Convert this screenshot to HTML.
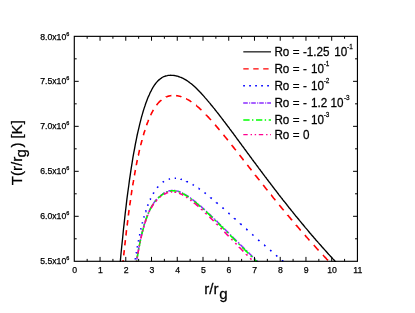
<!DOCTYPE html>
<html><head><meta charset="utf-8"><title>T(r/rg)</title>
<style>
html,body{margin:0;padding:0;background:#fff;}
body{width:415px;height:313px;overflow:hidden;}
svg{display:block;will-change:transform;}
text{font-family:"Liberation Sans",sans-serif;fill:#000;stroke:#000;stroke-width:0.25px;}
</style></head><body>
<svg width="415" height="313" viewBox="0 0 415 313">
<rect width="415" height="313" fill="#fff"/>
<defs><clipPath id="c"><rect x="74.3" y="36.35" width="283.14" height="225.55"/></clipPath></defs>
<g clip-path="url(#c)" fill="none">
<path d="M136.1 264.2 L136.1 264.2 L136.3 263.1 M136.5 261.8 L136.5 261.8 L136.6 260.8 M136.8 259.6 L136.8 259.6 L137.5 255.7 L137.6 255.1 M137.8 253.8 L137.8 253.7 L138.0 252.8 M138.2 251.6 L138.2 251.5 L138.8 248.0 L139.0 247.1 M139.3 245.8 L139.3 245.8 L139.5 244.8 M139.7 243.6 L139.7 243.4 L140.4 240.3 L140.6 239.1 M140.9 237.8 L140.9 237.8 L141.1 236.8 M141.4 235.6 L141.4 235.5 L142.1 232.8 L142.5 231.1 M142.8 229.8 L142.9 229.8 L143.1 228.8 M143.4 227.6 L143.5 227.5 L144.1 225.2 L144.7 223.1 M145.1 221.8 L145.2 221.7 L145.5 220.8 M145.9 219.6 L145.9 219.5 L146.6 217.7 L147.2 215.9 L147.5 215.1 M148.0 213.8 L148.1 213.8 L148.5 212.8 M149.0 211.6 L149.0 211.6 L149.6 210.2 L150.3 208.9 L150.9 207.6 L151.2 207.1 M152.0 205.8 L152.0 205.8 L152.6 204.8 M153.3 203.6 L153.4 203.6 L154.0 202.6 L154.7 201.7 L155.3 200.9 L155.9 200.1 L156.6 199.4 L156.8 199.1 M158.1 197.8 L158.1 197.8 L158.7 197.2 L159.1 196.8 M160.3 195.8 L160.3 195.8 L161.0 195.2 L161.6 194.7 L162.3 194.3 L162.9 193.8 L163.5 193.4 L164.2 193.0 L164.8 192.7 M166.1 192.0 L166.1 192.0 L166.8 191.7 L167.1 191.6 M168.3 191.2 L168.3 191.2 L168.9 191.0 L169.6 190.8 L170.2 190.7 L170.9 190.6 L171.5 190.5 L172.2 190.4 L172.8 190.4 M174.1 190.5 L174.1 190.5 L174.7 190.5 L175.1 190.6 M176.3 190.8 L176.3 190.8 L177.0 190.9 L177.6 191.1 L178.3 191.3 L178.9 191.5 L179.5 191.7 L180.2 192.0 L180.8 192.2 M182.1 192.8 L182.1 192.8 L182.8 193.2 L183.1 193.3 M184.3 194.0 L184.3 194.0 L185.0 194.4 L185.6 194.7 L186.2 195.1 L186.9 195.5 L187.5 196.0 L188.2 196.4 L188.8 196.8 M190.1 197.7 L190.1 197.7 L190.7 198.2 L191.1 198.4 M192.3 199.3 L192.3 199.3 L192.9 199.8 L193.6 200.3 L194.2 200.8 L194.9 201.3 L195.5 201.9 L196.2 202.4 L196.8 202.9 M198.1 204.0 L198.1 204.0 L198.8 204.6 L199.1 204.8 M200.3 205.9 L200.3 205.9 L201.0 206.4 L201.6 207.0 L202.2 207.6 L202.9 208.2 L203.5 208.7 L204.2 209.3 L204.8 209.9 M206.1 211.1 L206.1 211.1 L206.8 211.7 L207.1 212.0 M208.3 213.1 L208.3 213.1 L208.9 213.7 L209.6 214.3 L210.2 214.9 L210.9 215.6 L211.5 216.2 L212.2 216.8 L212.8 217.4 M214.1 218.6 L214.1 218.7 L214.8 219.3 L215.1 219.6 M216.3 220.8 L216.3 220.8 L217.0 221.4 L217.6 222.1 L218.2 222.7 L218.9 223.3 L219.5 224.0 L220.2 224.6 L220.8 225.2 M222.1 226.5 L222.1 226.5 L222.8 227.1 L223.1 227.5 M224.3 228.7 L224.3 228.7 L224.9 229.3 L225.6 230.0 L226.2 230.6 L226.9 231.2 L227.5 231.9 L228.2 232.5 L228.8 233.1 M230.1 234.4 L230.1 234.4 L230.7 235.1 L231.1 235.4 M232.3 236.6 L232.3 236.7 L233.0 237.3 L233.6 238.0 L234.3 238.6 L234.9 239.2 L235.5 239.9 L236.2 240.5 L236.8 241.1 M238.1 242.4 L238.1 242.4 L238.8 243.1 L239.1 243.4 M240.3 244.6 L240.3 244.6 L240.9 245.2 L241.6 245.9 L242.2 246.5 L242.9 247.1 L243.5 247.8 L244.2 248.4 L244.8 249.0 M246.1 250.3 L246.1 250.3 L246.7 250.9 L247.1 251.3 M248.3 252.5 L248.3 252.5 L249.0 253.1 L249.6 253.8 L250.3 254.4 L250.9 255.0 L251.5 255.6 L252.2 256.3 L252.8 256.8 M254.1 258.1 L254.1 258.1 L254.8 258.7 L255.1 259.1 M256.3 260.2 L256.3 260.2 L257.0 260.8 L257.6 261.5 L258.2 262.1 L258.9 262.7 L259.5 263.3 L260.2 263.9 L260.6 264.3" stroke="#8a2cff" stroke-width="1.5"/>
<path d="M136.1 264.2 L136.1 264.2 L136.2 263.8 M136.5 261.5 L136.6 261.4 L136.7 260.3 M137.1 258.1 L137.1 258.0 L137.8 254.2 L138.2 251.8 M138.6 249.5 L138.6 249.4 L138.8 248.3 M139.2 246.1 L139.3 246.0 L139.9 242.8 L140.5 239.8 M141.0 237.5 L141.1 237.4 L141.3 236.3 M141.8 234.1 L141.9 233.9 L142.5 231.3 L143.2 228.9 L143.5 227.8 M144.1 225.5 L144.1 225.3 L144.5 224.3 M145.1 222.1 L145.2 222.0 L145.8 220.0 L146.5 218.1 L147.1 216.4 L147.3 215.8 M148.3 213.5 L148.3 213.4 L148.8 212.3 M149.8 210.1 L149.9 210.0 L150.5 208.7 L151.1 207.5 L151.8 206.4 L152.4 205.3 L153.1 204.3 L153.4 203.8 M155.1 201.5 L155.1 201.4 L155.8 200.6 L156.1 200.3 M158.1 198.1 L158.1 198.1 L158.8 197.5 L159.4 196.9 L160.1 196.3 L160.7 195.8 L161.4 195.3 L162.0 194.8 L162.6 194.4 L163.3 193.9 L163.9 193.5 L164.4 193.2 M166.7 192.1 L166.8 192.1 L167.4 191.8 L167.9 191.7 M170.1 191.1 L170.2 191.1 L170.8 191.0 L171.4 190.9 L172.1 190.8 L172.7 190.8 L173.4 190.8 L174.0 190.9 L174.7 190.9 L175.3 191.0 L175.9 191.1 L176.4 191.2 M178.7 191.9 L178.8 191.9 L179.4 192.1 L179.9 192.3 M182.1 193.3 L182.2 193.3 L182.8 193.7 L183.5 194.0 L184.1 194.3 L184.7 194.7 L185.4 195.1 L186.0 195.5 L186.7 195.9 L187.3 196.3 L188.0 196.7 L188.4 197.1 M190.7 198.7 L190.7 198.7 L191.4 199.2 L191.9 199.6 M194.1 201.3 L194.1 201.3 L194.8 201.8 L195.4 202.3 L196.1 202.8 L196.7 203.4 L197.4 203.9 L198.0 204.5 L198.6 205.0 L199.3 205.6 L199.9 206.1 L200.4 206.6 M202.7 208.6 L202.8 208.6 L203.4 209.2 L203.9 209.7 M206.1 211.7 L206.1 211.7 L206.8 212.3 L207.4 212.9 L208.1 213.5 L208.7 214.1 L209.4 214.7 L210.0 215.4 L210.7 216.0 L211.3 216.6 L211.9 217.2 L212.4 217.7 M214.7 219.9 L214.8 220.0 L215.4 220.6 L215.9 221.1 M218.1 223.3 L218.2 223.3 L218.8 223.9 L219.5 224.6 L220.1 225.2 L220.7 225.8 L221.4 226.5 L222.0 227.1 L222.7 227.8 L223.3 228.4 L224.0 229.0 L224.4 229.5 M226.7 231.8 L226.7 231.8 L227.4 232.5 L227.9 233.0 M230.1 235.2 L230.1 235.2 L230.8 235.9 L231.4 236.5 L232.1 237.2 L232.7 237.8 L233.4 238.5 L234.0 239.1 L234.6 239.7 L235.3 240.4 L235.9 241.0 L236.4 241.5 M238.7 243.8 L238.7 243.8 L239.4 244.5 L239.9 245.0 M242.1 247.2 L242.1 247.2 L242.8 247.9 L243.4 248.5 L244.1 249.1 L244.7 249.8 L245.4 250.4 L246.0 251.1 L246.7 251.7 L247.3 252.3 L247.9 253.0 L248.4 253.4 M250.7 255.7 L250.7 255.7 L251.4 256.3 L251.9 256.9 M254.1 259.0 L254.1 259.0 L254.8 259.6 L255.4 260.2 L256.1 260.9 L256.7 261.5 L257.3 262.1 L258.0 262.7 L258.6 263.3 L259.3 264.0 L259.6 264.3" stroke="#00ff00" stroke-width="1.6"/>
<path d="M136.5 261.9 L136.5 261.7 L136.7 260.6 M137.1 257.8 L137.2 257.7 L137.4 256.5 M137.8 253.8 L137.8 253.7 L138.5 250.2 L138.6 249.5 M139.1 246.7 L139.2 246.5 L139.4 245.4 M140.0 242.6 L140.0 242.5 L140.2 241.3 M140.8 238.6 L140.8 238.5 L141.5 235.7 L141.8 234.3 M142.5 231.5 L142.5 231.5 L142.9 230.2 M143.6 227.4 L143.6 227.4 L144.0 226.1 M144.8 223.4 L144.8 223.3 L145.5 221.3 L146.1 219.4 L146.2 219.1 M147.3 216.3 L147.3 216.3 L147.8 215.0 M149.0 212.2 L149.0 212.2 L149.6 210.9 M151.0 208.2 L151.0 208.2 L151.7 207.0 L152.3 206.0 L152.9 205.0 L153.6 204.0 L153.7 203.9 M155.8 201.1 L155.9 201.1 L156.5 200.4 L157.0 199.8 M159.8 197.2 L159.8 197.2 L160.5 196.7 L161.1 196.2 L161.1 196.2 M163.8 194.4 L163.8 194.4 L164.5 194.0 L165.1 193.7 L165.8 193.4 L166.4 193.1 L167.1 192.8 L167.7 192.6 L168.1 192.5 M170.9 191.9 L170.9 191.9 L171.6 191.9 L172.2 191.8 M175.0 192.0 L175.0 192.1 L175.7 192.2 L176.3 192.3 M179.0 193.2 L179.0 193.2 L179.7 193.4 L180.3 193.7 L181.0 194.0 L181.6 194.3 L182.3 194.6 L182.9 195.0 L183.3 195.2 M186.1 196.9 L186.1 196.9 L186.8 197.3 L187.4 197.8 L187.4 197.8 M190.2 199.8 L190.2 199.8 L190.9 200.3 L191.5 200.8 M194.2 202.9 L194.2 203.0 L194.9 203.5 L195.5 204.0 L196.2 204.6 L196.8 205.1 L197.4 205.7 L198.1 206.2 L198.5 206.6 M201.3 209.1 L201.3 209.2 L202.0 209.7 L202.6 210.3 M205.4 212.9 L205.4 213.0 L206.1 213.6 L206.7 214.2 M209.4 216.8 L209.4 216.8 L210.1 217.4 L210.7 218.1 L211.3 218.7 L212.0 219.3 L212.6 220.0 L213.3 220.6 L213.7 221.0 M216.5 223.8 L216.5 223.9 L217.2 224.5 L217.8 225.1 M220.5 227.9 L220.6 228.0 L221.2 228.6 L221.8 229.2 M224.4 231.9 L224.5 232.0 L225.1 232.6 L225.8 233.3 L226.4 234.0 L227.0 234.6 L227.7 235.3 L228.3 235.9 L228.6 236.2 M231.3 239.0 L231.4 239.1 L232.0 239.7 L232.6 240.3 M235.3 243.1 L235.3 243.1 L236.0 243.8 L236.6 244.4 M239.2 247.1 L239.2 247.2 L239.9 247.8 L240.5 248.5 L241.2 249.1 L241.8 249.8 L242.4 250.4 L243.1 251.1 L243.4 251.4 M246.2 254.2 L246.2 254.3 L246.9 254.9 L247.5 255.5 M250.2 258.3 L250.3 258.4 L250.9 259.0 L251.5 259.6 M254.2 262.3 L254.2 262.4 L254.9 263.0 L255.5 263.6 L256.2 264.3" stroke="#ff0090" stroke-width="1.6"/>
<path d="M134.5 264.2 L134.5 264.2 L134.6 264.0 M135.3 259.4 L135.3 259.1 L135.5 258.1 M136.2 253.4 L136.3 253.2 L136.4 252.1 M137.3 247.4 L137.3 247.3 L137.5 246.1 M138.4 241.5 L138.4 241.5 L138.6 240.2 M139.5 235.5 L139.6 235.4 L139.8 234.2 M140.8 229.5 L140.8 229.5 L141.1 228.2 M142.3 223.6 L142.3 223.4 L142.6 222.3 M143.9 217.6 L143.9 217.5 L144.2 216.3 M145.6 211.6 L145.7 211.6 L146.1 210.3 M147.7 205.7 L147.7 205.6 L148.2 204.4 M150.1 199.7 L150.2 199.6 L150.7 198.4 M153.1 193.7 L153.1 193.7 L153.8 192.6 L153.9 192.4 M157.1 187.8 L157.1 187.8 L157.8 187.0 L158.2 186.5 M162.7 182.3 L162.8 182.2 L163.4 181.8 L164.0 181.4 M168.7 179.2 L168.7 179.2 L169.4 179.0 L170.0 178.8 M174.7 178.3 L174.7 178.3 L175.3 178.3 L176.0 178.3 M180.6 179.1 L180.7 179.2 L181.3 179.3 L181.9 179.5 M186.6 181.3 L186.6 181.4 L187.3 181.7 L187.9 182.0 M192.6 184.5 L192.6 184.5 L193.2 184.9 L193.9 185.3 M198.5 188.4 L198.6 188.4 L199.2 188.8 L199.8 189.3 M204.5 192.7 L204.5 192.7 L205.2 193.2 L205.8 193.7 M210.5 197.4 L210.5 197.5 L211.1 198.0 L211.8 198.5 M216.4 202.4 L216.4 202.5 L217.1 203.0 L217.7 203.6 M222.4 207.6 L222.4 207.6 L223.1 208.2 L223.7 208.8 M228.4 212.9 L228.4 212.9 L229.0 213.5 L229.7 214.1 M234.3 218.2 L234.3 218.3 L235.0 218.8 L235.6 219.4 M240.3 223.6 L240.3 223.7 L240.9 224.2 L241.6 224.8 M246.2 229.0 L246.3 229.0 L246.9 229.6 L247.5 230.2 M252.2 234.4 L252.2 234.4 L252.9 235.0 L253.5 235.5 M258.2 239.7 L258.2 239.7 L258.8 240.3 L259.5 240.9 M264.1 245.0 L264.2 245.0 L264.8 245.5 L265.4 246.1 M270.1 250.2 L270.1 250.2 L270.8 250.7 L271.4 251.3 M276.1 255.3 L276.1 255.3 L276.7 255.9 L277.4 256.4 M282.0 260.3 L282.1 260.4 L282.7 260.9 L283.3 261.4" stroke="#0000ff" stroke-width="1.6"/>
<path d="M122.8 264.3 L122.8 264.3 L123.2 260.2 M123.7 255.4 L123.7 255.4 L124.3 250.1 M124.8 245.4 L124.8 245.4 L125.4 240.1 M125.9 235.4 L126.0 235.1 L126.5 230.1 M127.1 225.4 L127.2 225.1 L127.8 220.1 M128.4 215.4 L128.4 215.2 L129.0 210.4 L129.1 210.1 M129.7 205.3 L129.7 205.3 L130.4 200.8 L130.5 200.0 M131.2 195.3 L131.2 195.2 L131.8 191.0 L132.0 190.0 M132.7 185.3 L132.7 185.3 L133.4 181.4 L133.6 180.0 M134.4 175.3 L134.5 175.1 L135.1 171.6 L135.4 170.0 M136.3 165.3 L136.3 165.2 L136.9 162.0 L137.3 160.0 M138.3 155.2 L138.4 155.2 L139.0 152.3 L139.5 149.9 M140.7 145.2 L140.7 145.1 L141.4 142.5 L142.0 140.1 L142.0 139.9 M143.4 135.2 L143.4 135.2 L144.0 133.0 L144.7 130.9 L145.0 129.9 M146.6 125.2 L146.6 125.2 L147.2 123.4 L147.9 121.7 L148.5 120.1 L148.6 119.9 M150.7 115.2 L150.7 115.2 L151.3 113.8 L152.0 112.5 L152.6 111.3 L153.2 110.2 L153.4 109.9 M156.5 105.1 L156.5 105.1 L157.2 104.3 L157.8 103.5 L158.5 102.8 L159.1 102.1 L159.8 101.4 L160.4 100.8 L161.1 100.3 L161.4 100.0 M166.1 97.1 L166.1 97.0 L166.8 96.8 L167.4 96.5 L168.0 96.3 L168.7 96.1 L169.3 96.0 L170.0 95.8 L170.6 95.7 L171.3 95.6 L171.4 95.6 M176.1 95.6 L176.1 95.6 L176.8 95.7 L177.4 95.8 L178.0 95.9 L178.7 96.0 L179.3 96.2 L180.0 96.3 L180.6 96.5 L181.3 96.7 L181.4 96.8 M186.1 98.7 L186.2 98.7 L186.8 99.1 L187.4 99.4 L188.1 99.8 L188.7 100.1 L189.4 100.5 L190.0 100.9 L190.7 101.4 L191.3 101.8 L191.4 101.9 M196.1 105.4 L196.2 105.4 L196.8 106.0 L197.4 106.5 L198.1 107.1 L198.7 107.6 L199.4 108.2 L200.0 108.8 L200.7 109.4 L201.3 110.0 L201.4 110.1 M206.1 114.8 L206.1 114.9 L206.8 115.5 L207.4 116.2 L208.1 116.9 L208.7 117.6 L209.4 118.3 L210.0 119.0 L210.7 119.7 L211.0 120.1 M215.1 124.8 L215.2 124.9 L215.8 125.6 L216.4 126.4 L217.1 127.1 L217.7 127.9 L218.4 128.6 L219.0 129.4 L219.6 130.1 M223.5 134.9 L223.5 134.9 L224.2 135.7 L224.8 136.5 L225.5 137.3 L226.1 138.1 L226.7 138.8 L227.4 139.6 L227.8 140.2 M231.6 144.9 L231.6 144.9 L232.2 145.7 L232.9 146.5 L233.5 147.4 L234.2 148.2 L234.8 149.0 L235.5 149.8 L235.8 150.2 M239.5 154.9 L239.5 154.9 L240.1 155.7 L240.8 156.6 L241.4 157.4 L242.1 158.2 L242.7 159.0 L243.3 159.9 L243.6 160.2 M247.3 164.9 L247.3 164.9 L248.0 165.8 L248.6 166.6 L249.3 167.4 L249.9 168.2 L250.6 169.1 L251.2 169.9 L251.5 170.2 M255.2 174.9 L255.2 175.0 L255.8 175.8 L256.5 176.6 L257.1 177.4 L257.8 178.2 L258.4 179.0 L259.1 179.8 L259.4 180.2 M263.1 185.0 L263.1 185.0 L263.8 185.8 L264.4 186.6 L265.1 187.4 L265.7 188.2 L266.3 189.0 L267.0 189.8 L267.3 190.3 M271.1 195.0 L271.2 195.0 L271.8 195.8 L272.4 196.6 L273.1 197.4 L273.7 198.2 L274.4 199.0 L275.0 199.8 L275.4 200.3 M279.3 205.0 L279.3 205.0 L279.9 205.8 L280.6 206.6 L281.2 207.4 L281.9 208.2 L282.5 208.9 L283.2 209.7 L283.7 210.3 M287.6 215.0 L287.6 215.1 L288.3 215.8 L288.9 216.6 L289.6 217.4 L290.2 218.1 L290.8 218.9 L291.5 219.6 L292.1 220.3 M296.1 225.0 L296.1 225.1 L296.8 225.8 L297.4 226.6 L298.1 227.3 L298.7 228.1 L299.3 228.8 L300.0 229.6 L300.6 230.3 L300.7 230.3 M304.8 235.1 L304.8 235.1 L305.5 235.8 L306.1 236.6 L306.8 237.3 L307.4 238.0 L308.1 238.7 L308.7 239.4 L309.3 240.2 L309.5 240.4 M313.8 245.1 L313.8 245.1 L314.4 245.8 L315.1 246.5 L315.7 247.2 L316.4 248.0 L317.0 248.7 L317.7 249.4 L318.3 250.1 L318.6 250.4 M323.0 255.1 L323.0 255.1 L323.6 255.8 L324.3 256.5 L324.9 257.2 L325.6 257.8 L326.2 258.5 L326.8 259.2 L327.5 259.9 L328.0 260.4" stroke="#ff0000" stroke-width="1.6"/>
<path d="M120.1 264.0 L120.9 254.7 L121.8 245.8 L122.7 237.2 L123.5 229.0 L124.4 221.1 L125.2 213.5 L126.1 206.2 L126.9 199.2 L127.8 192.4 L128.7 186.0 L129.5 179.8 L130.4 173.9 L131.2 168.3 L132.1 162.9 L132.9 157.7 L133.8 152.7 L134.7 148.0 L135.5 143.5 L136.4 139.1 L137.2 135.0 L138.1 131.1 L139.0 127.3 L139.8 123.8 L140.7 120.4 L141.5 117.1 L142.4 114.1 L143.2 111.2 L144.1 108.4 L145.0 105.8 L145.8 103.3 L146.7 100.9 L147.5 98.7 L148.4 96.6 L149.3 94.7 L150.1 92.8 L151.0 91.1 L151.8 89.5 L152.7 87.9 L153.5 86.5 L154.4 85.2 L155.3 84.0 L156.1 82.9 L157.0 81.9 L157.8 81.0 L158.7 80.1 L159.6 79.4 L160.4 78.7 L161.3 78.1 L162.1 77.5 L163.0 77.0 L163.8 76.6 L164.7 76.3 L165.6 76.0 L166.4 75.8 L167.3 75.6 L168.1 75.4 L169.0 75.3 L169.8 75.3 L170.7 75.2 L171.6 75.3 L172.4 75.3 L173.3 75.4 L174.1 75.5 L175.0 75.6 L175.9 75.8 L176.7 76.0 L177.6 76.2 L178.4 76.5 L179.3 76.8 L180.1 77.1 L181.0 77.4 L181.9 77.8 L182.7 78.2 L183.6 78.6 L184.4 79.1 L185.3 79.6 L186.2 80.1 L187.0 80.7 L187.9 81.2 L188.7 81.9 L189.6 82.5 L190.4 83.2 L191.3 83.8 L192.2 84.6 L193.0 85.3 L193.9 86.1 L194.7 86.8 L195.6 87.6 L196.5 88.5 L197.3 89.3 L198.2 90.2 L199.0 91.0 L199.9 91.9 L200.7 92.8 L201.6 93.8 L202.5 94.7 L203.3 95.6 L204.2 96.6 L205.0 97.6 L205.9 98.6 L206.8 99.6 L207.6 100.6 L208.5 101.6 L209.3 102.6 L210.2 103.6 L211.0 104.7 L211.9 105.7 L212.8 106.8 L213.6 107.9 L214.5 108.9 L215.3 110.0 L216.2 111.1 L217.0 112.2 L217.9 113.3 L218.8 114.4 L219.6 115.5 L220.5 116.6 L221.3 117.7 L222.2 118.8 L223.1 120.0 L223.9 121.1 L224.8 122.2 L225.6 123.3 L226.5 124.5 L227.3 125.6 L228.2 126.8 L229.1 127.9 L229.9 129.1 L230.8 130.2 L231.6 131.4 L232.5 132.5 L233.4 133.7 L234.2 134.8 L235.1 136.0 L235.9 137.2 L236.8 138.3 L237.6 139.5 L238.5 140.7 L239.4 141.8 L240.2 143.0 L241.1 144.1 L241.9 145.3 L242.8 146.5 L243.7 147.6 L244.5 148.8 L245.4 150.0 L246.2 151.1 L247.1 152.3 L247.9 153.5 L248.8 154.6 L249.7 155.8 L250.5 157.0 L251.4 158.1 L252.2 159.3 L253.1 160.5 L253.9 161.6 L254.8 162.8 L255.7 163.9 L256.5 165.1 L257.4 166.2 L258.2 167.4 L259.1 168.6 L260.0 169.7 L260.8 170.9 L261.7 172.0 L262.5 173.1 L263.4 174.3 L264.2 175.4 L265.1 176.6 L266.0 177.7 L266.8 178.9 L267.7 180.0 L268.5 181.1 L269.4 182.3 L270.3 183.4 L271.1 184.5 L272.0 185.6 L272.8 186.8 L273.7 187.9 L274.5 189.0 L275.4 190.1 L276.3 191.2 L277.1 192.3 L278.0 193.5 L278.8 194.6 L279.7 195.7 L280.6 196.8 L281.4 197.9 L282.3 199.0 L283.1 200.1 L284.0 201.2 L284.8 202.2 L285.7 203.3 L286.6 204.4 L287.4 205.5 L288.3 206.6 L289.1 207.7 L290.0 208.7 L290.8 209.8 L291.7 210.9 L292.6 211.9 L293.4 213.0 L294.3 214.1 L295.1 215.1 L296.0 216.2 L296.9 217.2 L297.7 218.3 L298.6 219.3 L299.4 220.4 L300.3 221.4 L301.1 222.4 L302.0 223.5 L302.9 224.5 L303.7 225.5 L304.6 226.6 L305.4 227.6 L306.3 228.6 L307.2 229.6 L308.0 230.6 L308.9 231.7 L309.7 232.7 L310.6 233.7 L311.4 234.7 L312.3 235.7 L313.2 236.7 L314.0 237.7 L314.9 238.7 L315.7 239.7 L316.6 240.7 L317.5 241.6 L318.3 242.6 L319.2 243.6 L320.0 244.6 L320.9 245.5 L321.7 246.5 L322.6 247.5 L323.5 248.5 L324.3 249.4 L325.2 250.4 L326.0 251.3 L326.9 252.3 L327.7 253.2 L328.6 254.2 L329.5 255.1 L330.3 256.1 L331.2 257.0 L332.0 257.9 L332.9 258.9 L333.8 259.8 L334.6 260.7 L335.5 261.7 L336.3 262.6 L337.2 263.5 L337.9 264.3" stroke="#000" stroke-width="1.35"/>
</g>
<rect x="74.3" y="36.35" width="283.14" height="224.95" fill="none" stroke="#000" stroke-width="1.15"/>
<path d="M87.17 261.3 v-2.4 M87.17 36.35 v2.4 M100.04 261.3 v-4.4 M100.04 36.35 v4.4 M112.91 261.3 v-2.4 M112.91 36.35 v2.4 M125.78 261.3 v-4.4 M125.78 36.35 v4.4 M138.65 261.3 v-2.4 M138.65 36.35 v2.4 M151.52 261.3 v-4.4 M151.52 36.35 v4.4 M164.39 261.3 v-2.4 M164.39 36.35 v2.4 M177.26 261.3 v-4.4 M177.26 36.35 v4.4 M190.13 261.3 v-2.4 M190.13 36.35 v2.4 M203.00 261.3 v-4.4 M203.00 36.35 v4.4 M215.87 261.3 v-2.4 M215.87 36.35 v2.4 M228.74 261.3 v-4.4 M228.74 36.35 v4.4 M241.61 261.3 v-2.4 M241.61 36.35 v2.4 M254.48 261.3 v-4.4 M254.48 36.35 v4.4 M267.35 261.3 v-2.4 M267.35 36.35 v2.4 M280.22 261.3 v-4.4 M280.22 36.35 v4.4 M293.09 261.3 v-2.4 M293.09 36.35 v2.4 M305.96 261.3 v-4.4 M305.96 36.35 v4.4 M318.83 261.3 v-2.4 M318.83 36.35 v2.4 M331.70 261.3 v-4.4 M331.70 36.35 v4.4 M344.57 261.3 v-2.4 M344.57 36.35 v2.4 M74.3 238.81 h2.4 M357.44 238.81 h-2.4 M74.3 216.31 h4.4 M357.44 216.31 h-4.4 M74.3 193.81 h2.4 M357.44 193.81 h-2.4 M74.3 171.32 h4.4 M357.44 171.32 h-4.4 M74.3 148.83 h2.4 M357.44 148.83 h-2.4 M74.3 126.33 h4.4 M357.44 126.33 h-4.4 M74.3 103.84 h2.4 M357.44 103.84 h-2.4 M74.3 81.34 h4.4 M357.44 81.34 h-4.4 M74.3 58.84 h2.4 M357.44 58.84 h-2.4" stroke="#000" stroke-width="1" fill="none"/>
<g font-size="8.7"><text x="74.60" y="272.9" text-anchor="middle">0</text><text x="100.34" y="272.9" text-anchor="middle">1</text><text x="126.08" y="272.9" text-anchor="middle">2</text><text x="151.82" y="272.9" text-anchor="middle">3</text><text x="177.56" y="272.9" text-anchor="middle">4</text><text x="203.30" y="272.9" text-anchor="middle">5</text><text x="229.04" y="272.9" text-anchor="middle">6</text><text x="254.78" y="272.9" text-anchor="middle">7</text><text x="280.52" y="272.9" text-anchor="middle">8</text><text x="306.26" y="272.9" text-anchor="middle">9</text><text x="332.00" y="272.9" text-anchor="middle">10</text><text x="357.74" y="272.9" text-anchor="middle">11</text><text x="66.3" y="264.30" text-anchor="end">5.5x10</text><text x="66.3" y="260.10" font-size="5.5">6</text><text x="66.3" y="219.31" text-anchor="end">6.0x10</text><text x="66.3" y="215.11" font-size="5.5">6</text><text x="66.3" y="174.32" text-anchor="end">6.5x10</text><text x="66.3" y="170.12" font-size="5.5">6</text><text x="66.3" y="129.33" text-anchor="end">7.0x10</text><text x="66.3" y="125.13" font-size="5.5">6</text><text x="66.3" y="84.34" text-anchor="end">7.5x10</text><text x="66.3" y="80.14" font-size="5.5">6</text><text x="66.3" y="39.75" text-anchor="end">8.0x10</text><text x="66.3" y="35.55" font-size="5.5">6</text></g>
<g font-size="15.1">
<text transform="translate(204.2,293.5) scale(1,1.025)">r/r</text><text transform="translate(219.3,298.9) scale(1,1.025)">g</text>
<g transform="translate(22.1,185.3) rotate(-90) scale(1,1.025)"><text x="0" y="0">T(r/r</text><text x="27.7" y="4.2">g</text><text x="37.7" y="0">)</text><text x="46.7" y="0">[K]</text></g>
</g>
<g stroke-width="1.25" fill="none">
<path d="M243.3 51.85H271" stroke="#000" stroke-width="1.15"/>
<path d="M243.3 68.75H271" stroke="#ff0000" stroke-dasharray="5.4 4.55"/>
<path d="M243.2 85.8H271" stroke="#0000ff" stroke-width="1.6" stroke-dasharray="1.7 4.3"/>
<path d="M243.2 102.9H271" stroke="#8a2cff" stroke-width="1.5" stroke-dasharray="4.6 1.4 1 1"/>
<path d="M243.3 119.95H271" stroke="#00ff00" stroke-width="1.5" stroke-dasharray="6.3 2.4 1.4 2.6"/>
<path d="M243.3 134.65H271" stroke="#ff0090" stroke-width="1.4" stroke-dasharray="4.4 2.9 1.4 2.7 1.4 2.7"/>
</g>
<g font-size="11.7"><text transform="translate(0,55.70) scale(1,1.015)"><tspan x="274.4">Ro</tspan><tspan x="292.7">=</tspan><tspan x="303">-1.25</tspan><tspan x="334.3">10</tspan></text><text transform="translate(347.0,48.90) scale(0.8,1.015)" font-size="8">-1</text><text transform="translate(0,72.80) scale(1,1.015)"><tspan x="274.4">Ro</tspan><tspan x="292.7">=</tspan><tspan x="303">-</tspan><tspan x="311">10</tspan></text><text transform="translate(323.7,66.00) scale(0.8,1.015)" font-size="8">-1</text><text transform="translate(0,89.90) scale(1,1.015)"><tspan x="274.4">Ro</tspan><tspan x="292.7">=</tspan><tspan x="303">-</tspan><tspan x="311">10</tspan></text><text transform="translate(323.7,83.10) scale(0.8,1.015)" font-size="8">-2</text><text transform="translate(0,107.00) scale(1,1.015)"><tspan x="274.4">Ro</tspan><tspan x="292.7">=</tspan><tspan x="303">-</tspan><tspan x="311">1.2</tspan><tspan x="330.5">10</tspan></text><text transform="translate(343.9,100.20) scale(0.8,1.015)" font-size="8">-3</text><text transform="translate(0,124.00) scale(1,1.015)"><tspan x="274.4">Ro</tspan><tspan x="292.7">=</tspan><tspan x="303">-</tspan><tspan x="311">10</tspan></text><text transform="translate(323.7,117.20) scale(0.8,1.015)" font-size="8">-3</text><text transform="translate(0,138.50) scale(1,1.015)"><tspan x="274.4">Ro</tspan><tspan x="292.7">=</tspan><tspan x="303">0</tspan></text></g>
</svg>
</body></html>
